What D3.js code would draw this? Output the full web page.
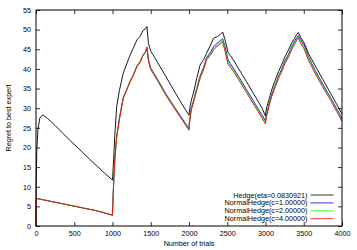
<!DOCTYPE html>
<html>
<head>
<meta charset="utf-8">
<script src="https://cdn.jsdelivr.net/npm/d3@7"></script>
<style>
  body { margin: 0; background: #fff; }
  text { font-family: "Liberation Sans", Arial, sans-serif; }
</style>
</head>
<body>
<script>
// data
var trials = [
  0, 4, 10, 25, 50, 87, 150, 250, 350, 450, 575, 700, 800, 900, 1000,
  1005, 1015, 1030, 1055, 1090, 1140, 1190, 1230, 1270, 1320, 1360, 1400, 1430, 1450, 1470, 1500, 1530, 1600, 1700, 1800, 1900, 2000,
  2005, 2015, 2030, 2060, 2100, 2145, 2190, 2230, 2280, 2320, 2370, 2410, 2440, 2470, 2510, 2540, 2580, 2650, 2750, 2850, 2950, 3000,
  3005, 3020, 3050, 3080, 3120, 3170, 3210, 3255, 3300, 3340, 3380, 3410, 3430, 3460, 3500, 3530, 3560, 3650, 3750, 3850, 3950, 4000
];

var hedge = [
  0, 12, 19, 24.5, 27.5, 28.3, 27.4, 25.6, 23.6, 21.7, 19.4, 17.0, 15.2, 13.4, 11.7,
  13.5, 17, 23, 30.4, 34.5, 38.9, 41.5, 43.5, 45.2, 47.4, 48.3, 49.8, 50.2, 50.8, 46.5, 44.5, 43.6, 41.3, 38.0, 34.6, 31.3, 28.2,
  29, 30.5, 32, 34, 37.5, 41, 42.3, 44, 46, 47.8, 48.2, 48.8, 49.4, 47.5, 44.2, 43.4, 42.3, 40.0, 36.8, 33.5, 30.2, 28.0,
  29, 30.5, 32.5, 34.6, 36.8, 39.3, 41, 43.1, 44.8, 46.5, 47.8, 48.8, 49.3, 48.0, 46.8, 45.5, 44.0, 40.8, 37.3, 33.8, 30.3, 28.5
];

var normal1 = [
  0, 7.1, 7.0, 6.95, 6.85, 6.7, 6.45, 6.05, 5.65, 5.25, 4.75, 4.25, 3.85, 3.3, 2.75,
  6, 11, 17, 22.8, 27.4, 32.6, 35, 36.9, 38.4, 40.8, 41.8, 43.6, 44.3, 45.5, 42.4, 40.2, 39.3, 37, 33.6, 30.6, 27.7, 24.8,
  26.4, 28, 30, 32, 35, 38.2, 40.4, 42.9, 44.2, 45.6, 46.6, 47.2, 47.6, 45.8, 42.4, 41.3, 40.2, 38.0, 34.8, 31.6, 28.4, 26.8,
  27.4, 29, 31.3, 33.4, 35.6, 38.2, 39.9, 42.1, 43.7, 45.6, 47.1, 48, 48.5, 47.5, 46.2, 44.8, 43.2, 39.6, 36.1, 32.7, 29.2, 27.3
];

var normal2 = [
  0, 7.1, 7.0, 6.95, 6.85, 6.7, 6.45, 6.05, 5.65, 5.25, 4.75, 4.25, 3.85, 3.3, 2.75,
  6, 11, 17, 22.7, 27.3, 32.5, 34.9, 36.8, 38.3, 40.7, 41.7, 43.5, 44.2, 45.5, 42.2, 40.0, 39.1, 36.8, 33.4, 30.4, 27.5, 24.6,
  26.2, 27.7, 29.7, 31.7, 34.7, 37.8, 40.0, 42.5, 43.8, 45.1, 46.1, 46.7, 47.2, 45.1, 41.8, 40.8, 39.8, 37.6, 34.4, 31.2, 28.0, 26.4,
  27.2, 28.7, 31.0, 33.1, 35.3, 37.9, 39.5, 41.7, 43.3, 45.2, 46.7, 47.6, 48.2, 47.0, 45.7, 44.3, 42.7, 39.2, 35.7, 32.4, 28.9, 26.9
];

var normal4 = [
  0, 7.1, 7.0, 6.95, 6.85, 6.7, 6.45, 6.05, 5.65, 5.25, 4.75, 4.25, 3.85, 3.3, 2.75,
  6, 11, 17, 22.7, 27.2, 32.5, 34.8, 36.7, 38.2, 40.6, 41.6, 43.5, 44.2, 45.5, 42, 39.8, 38.9, 36.6, 33.2, 30.2, 27.3, 24.4,
  26, 27.5, 29.5, 31.5, 34.5, 37.6, 39.8, 42.3, 43.5, 44.8, 45.8, 46.4, 46.9, 44.5, 41.2, 40.4, 39.4, 37.2, 34.0, 30.8, 27.6, 26.0,
  27, 28.5, 30.8, 32.9, 35, 37.6, 39.2, 41.4, 43, 44.8, 46.3, 47.3, 47.9, 46.5, 45.2, 43.8, 42.3, 38.8, 35.3, 32.0, 28.5, 26.6
];

var seriesNames = ["Hedge(eta=0.0830921)", "NormalHedge(c=1.00000)", "NormalHedge(c=2.00000)", "NormalHedge(c=4.00000)"];
var seriesColors = ["#000000", "#0000ff", "#00ff00", "#ff0000"];
var seriesValues = [hedge, normal1, normal2, normal4];

var xTicks = [0, 500, 1000, 1500, 2000, 2500, 3000, 3500, 4000];
var yTicks = [0, 5, 10, 15, 20, 25, 30, 35, 40, 45, 50, 55];

var width = 357, height = 250;
var margin = {top: 10, right: 15, bottom: 24, left: 36};
var w = width - margin.left - margin.right;
var h = height - margin.top - margin.bottom;

var svg = d3.select("body").append("svg")
    .attr("width", width)
    .attr("height", height);

var g = svg.append("g")
    .attr("transform", "translate(" + margin.left + "," + margin.top + ")");

var x = d3.scaleLinear().domain([0, 4000]).range([0, w]);
var y = d3.scaleLinear().domain([0, 55]).range([h, 0]);

// axes, gnuplot style: ticks pointing in, mirrored on top/right
var fs = "7.2px";
g.append("g").attr("transform", "translate(0," + h + ")")
    .call(d3.axisBottom(x).tickValues(xTicks).tickFormat(d3.format("d"))
        .tickSizeInner(-4).tickSizeOuter(0).tickPadding(4.5))
    .call(function (s) { s.select(".domain").remove(); })
    .selectAll("text").style("font-size", fs).attr("fill", "#000");
g.append("g")
    .call(d3.axisTop(x).tickValues(xTicks).tickSizeInner(-4).tickSizeOuter(0).tickFormat(""))
    .call(function (s) { s.select(".domain").remove(); });
g.append("g")
    .call(d3.axisLeft(y).tickValues(yTicks).tickSizeInner(-4).tickSizeOuter(0).tickPadding(5))
    .call(function (s) { s.select(".domain").remove(); })
    .selectAll("text").style("font-size", fs).attr("fill", "#000");
g.append("g").attr("transform", "translate(" + w + ",0)")
    .call(d3.axisRight(y).tickValues(yTicks).tickSizeInner(-4).tickSizeOuter(0).tickFormat(""))
    .call(function (s) { s.select(".domain").remove(); });

g.selectAll(".tick line").attr("stroke", "#000").attr("stroke-width", 0.8);

// lines
var line = d3.line()
    .x(function (d, i) { return x(trials[i]); })
    .y(function (d) { return y(d); });

g.selectAll("path.series")
    .data(seriesValues)
    .enter().append("path")
    .attr("class", "series")
    .attr("fill", "none")
    .attr("stroke", function (d, i) { return seriesColors[i]; })
    .attr("stroke-width", 0.9)
    .attr("stroke-linejoin", "round")
    .attr("d", line);

// frame
g.append("rect")
    .attr("width", w).attr("height", h)
    .attr("fill", "none").attr("stroke", "#000").attr("stroke-width", 1);

// legend
var legend = g.append("g").attr("transform", "translate(" + (w - 31.5) + "," + (h - 31) + ")");
var row = legend.selectAll("g").data(seriesNames).enter().append("g")
    .attr("transform", function (d, i) { return "translate(0," + (i * 7.9) + ")"; });
row.append("text")
    .attr("x", -3).attr("dy", "0.35em")
    .attr("text-anchor", "end")
    .style("font-size", fs)
    .text(function (d) { return d; });
row.append("line")
    .attr("x1", 0).attr("x2", 23)
    .attr("stroke", function (d, i) { return seriesColors[i]; })
    .attr("stroke-width", 0.8);

// axis titles
svg.append("text")
    .attr("x", margin.left + w / 2).attr("y", 245.5)
    .attr("text-anchor", "middle")
    .style("font-size", fs)
    .text("Number of trials");
svg.append("text")
    .attr("transform", "translate(10.5," + (margin.top + h / 2) + ") rotate(-90)")
    .attr("text-anchor", "middle")
    .style("font-size", fs)
    .text("Regret to best expert");
</script>
</body>
</html>
